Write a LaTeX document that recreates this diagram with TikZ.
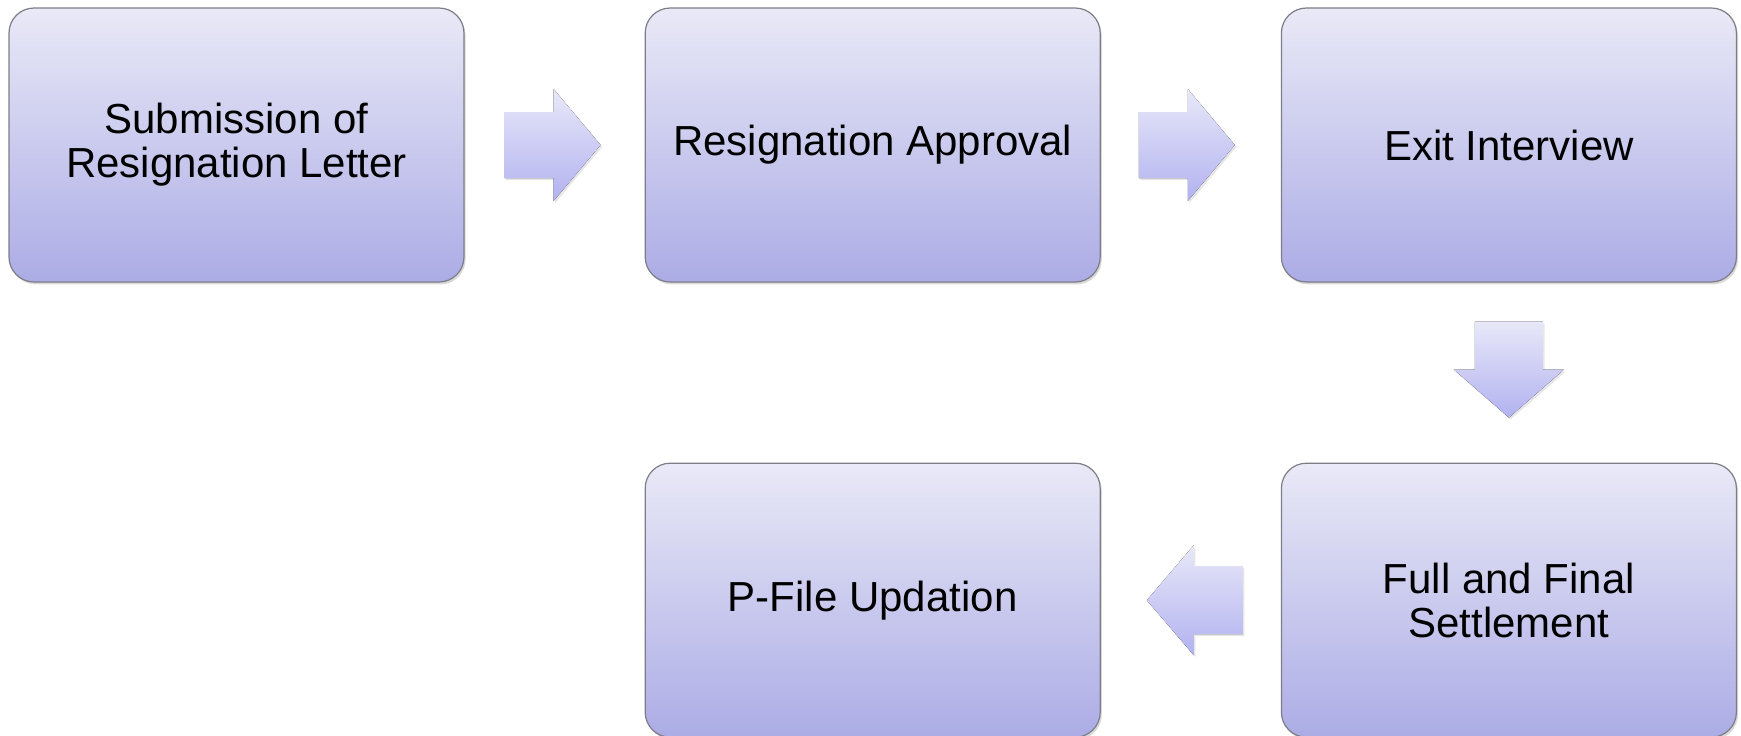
\documentclass[tikz,border=0pt]{standalone}
\usepackage{fontspec}
\setmainfont{Liberation Sans}
\usetikzlibrary{positioning,shadows,calc}

\definecolor{boxtop}{RGB}{233,233,247}
\definecolor{boxbot}{RGB}{172,172,230}
\definecolor{arrtop}{RGB}{232,232,249}
\definecolor{arrbot}{RGB}{178,178,240}
\definecolor{boxedge}{RGB}{125,125,135}

\begin{document}
\begin{tikzpicture}[
x=0.5pt, y=-0.5pt,
stepbox/.style={rectangle, rounded corners=12.5pt, draw=boxedge, line width=0.6pt, top color=boxtop, bottom color=boxbot, minimum width=227.5pt, minimum height=137pt, align=center, font=\fontsize{21}{22}\selectfont, drop shadow={shadow xshift=0.8pt, shadow yshift=-1.2pt, opacity=0.3}},
blockarrow/.style={top color=arrtop, bottom color=arrbot, drop shadow={shadow xshift=0.8pt, shadow yshift=-1pt, opacity=0.2}},
node distance=90pt
]
\useasboundingbox (0,0) rectangle (1741,735);

\node[stepbox] (submit) at (236.5,145) {Submission of\\Resignation Letter};
\node[stepbox] (approve) [right=of submit] {Resignation Approval};
\node[stepbox] (exit) [right=of approve] {Exit Interview};
\node[stepbox] (settle) [below=of exit] {Full and Final\\Settlement};
\node[stepbox] (pfile) [left=of settle] {P-File Updation};

%Top row arrows
\fill[blockarrow] ($(submit.east)+(40,-33)$) -- ++(49,0) -- ++(0,-23) -- ++(47,56) -- ++(-47,56) -- ++(0,-23) -- ++(-49,0) -- cycle;
\fill[blockarrow] ($(approve.east)+(38,-33)$) -- ++(49,0) -- ++(0,-23) -- ++(47,56) -- ++(-47,56) -- ++(0,-23) -- ++(-49,0) -- cycle;

%Down arrow
\fill[blockarrow] ($(exit.south)+(-34,39)$) -- ++(68,0) -- ++(0,48) -- ++(21,0) -- ++(-55,48) -- ++(-55,-48) -- ++(21,0) -- cycle;

%Back arrow
\fill[blockarrow] ($(settle.west)+(-38,-34)$) -- ++(0,68) -- ++(-49,0) -- ++(0,21) -- ++(-47,-55) -- ++(47,-55) -- ++(0,21) -- cycle;
\end{tikzpicture}
\end{document}
